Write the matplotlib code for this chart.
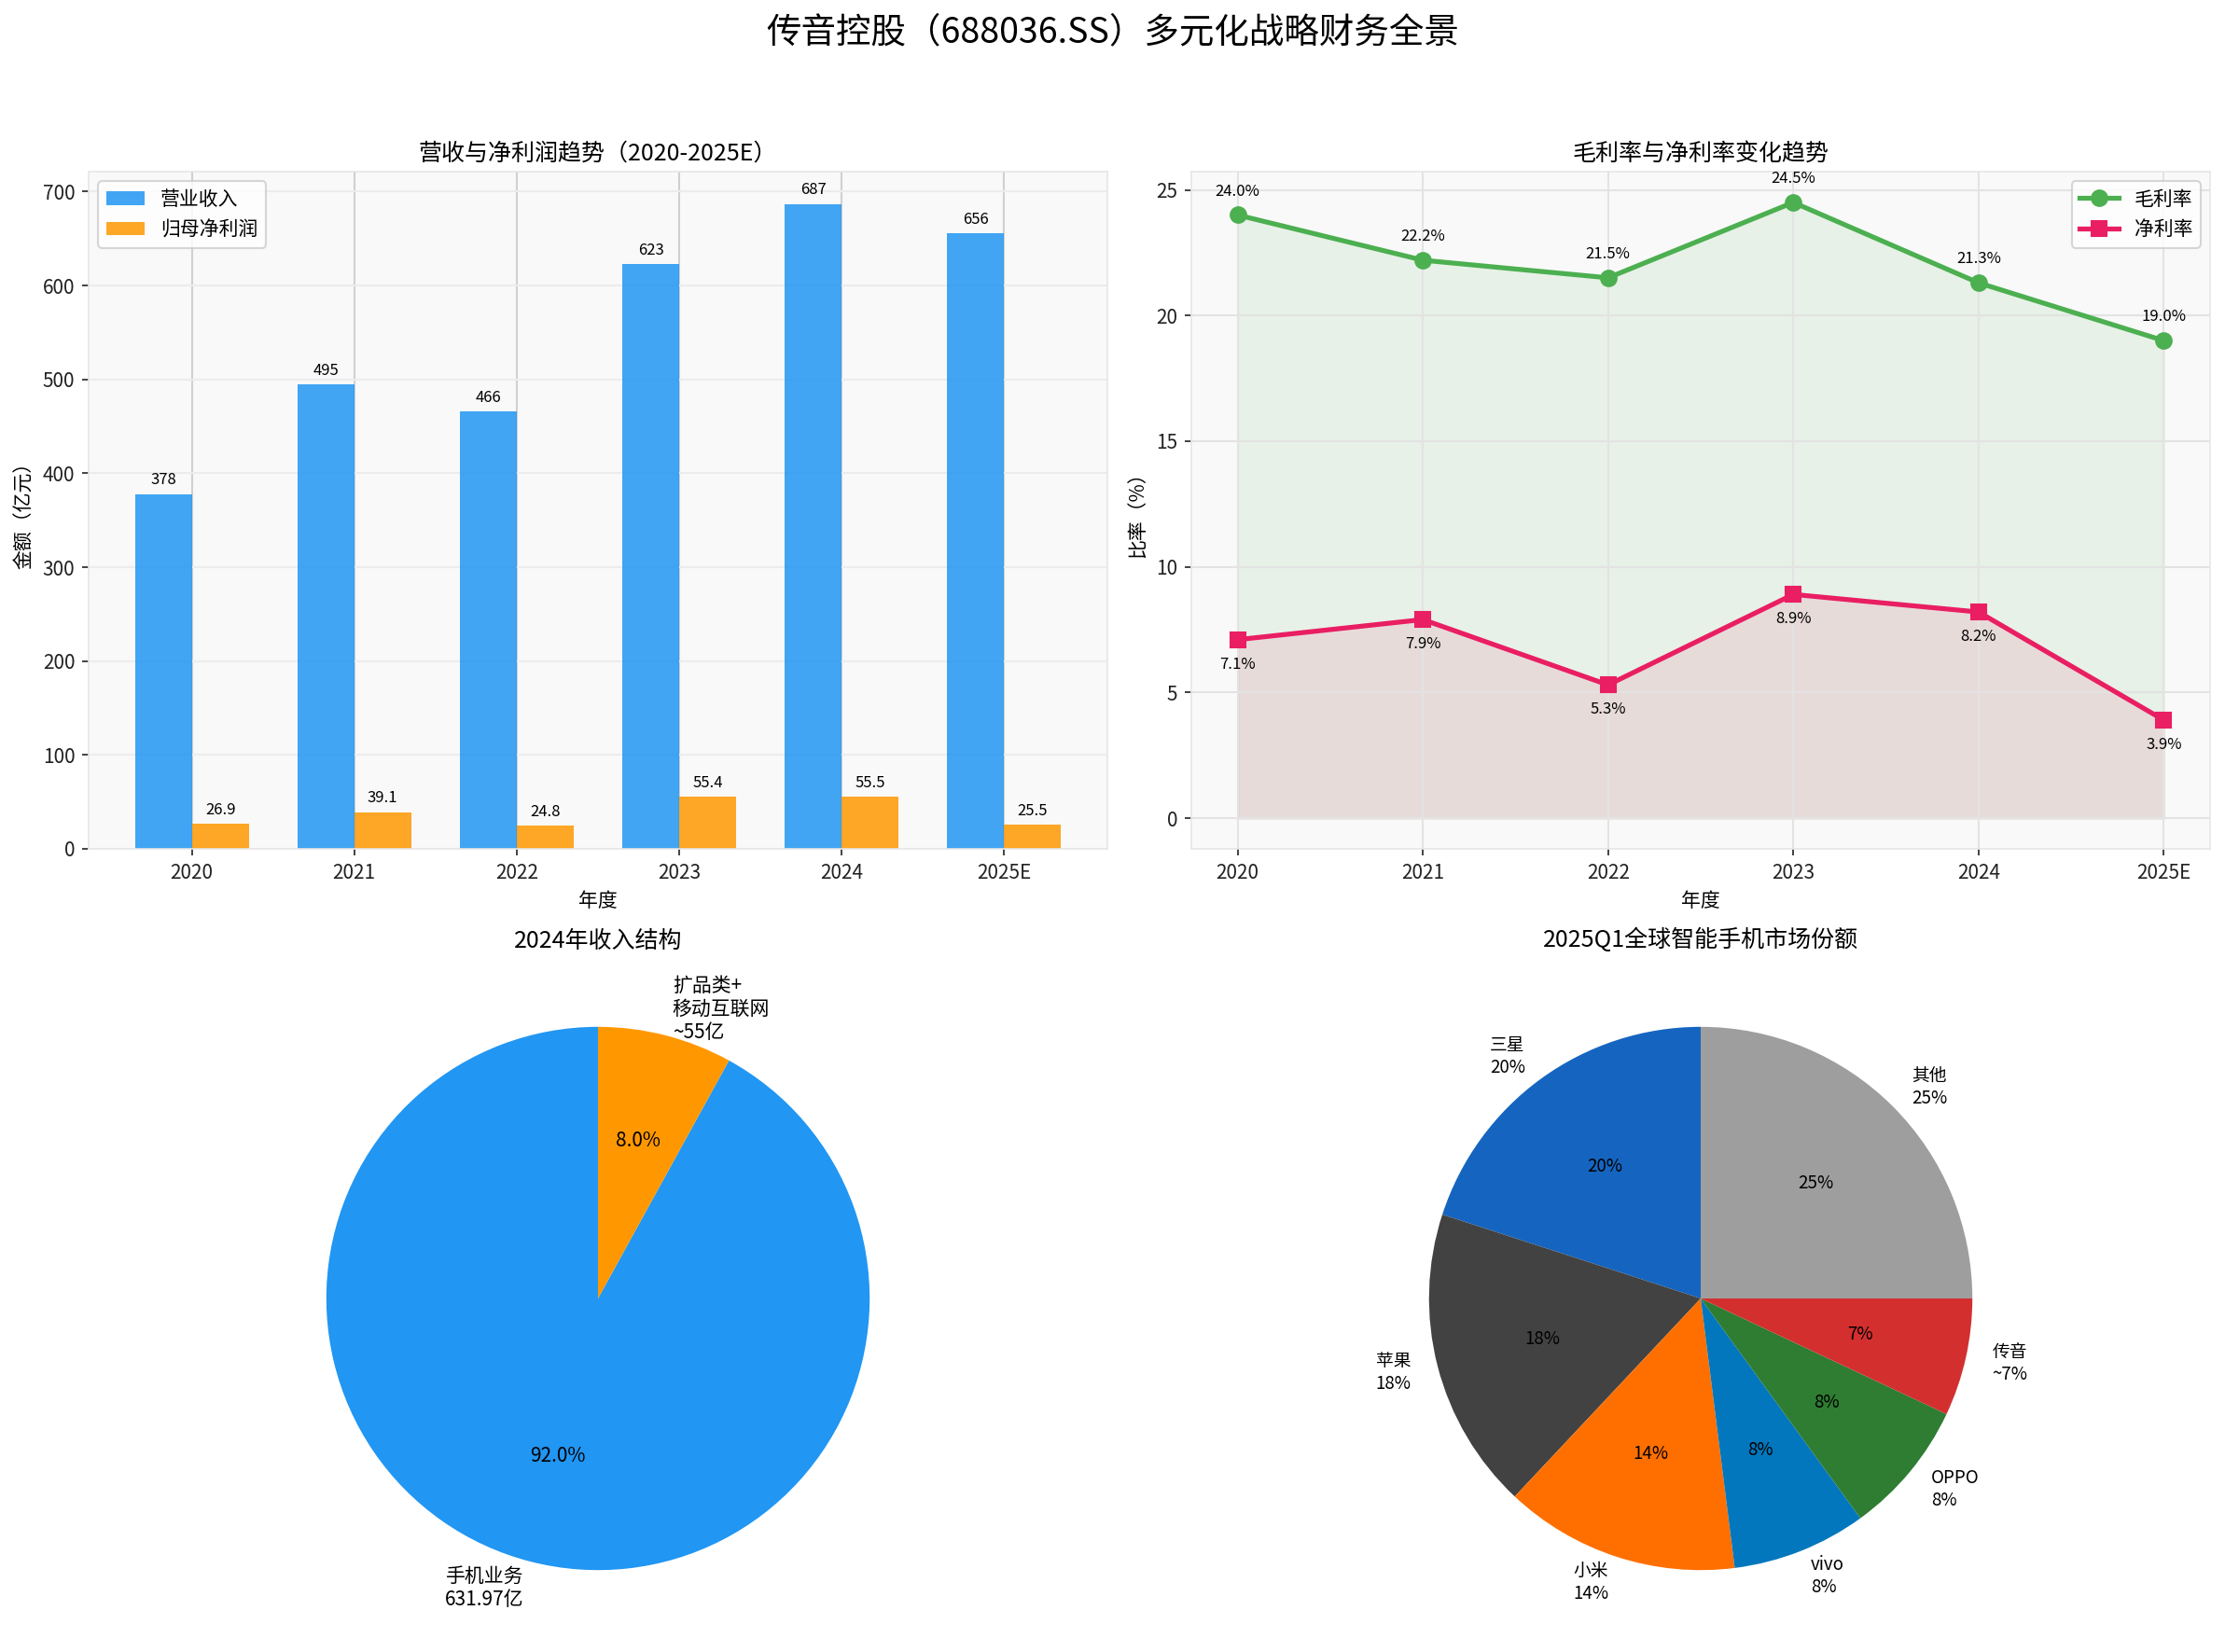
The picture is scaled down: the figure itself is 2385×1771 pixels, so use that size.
import matplotlib
matplotlib.use("Agg")
import matplotlib.pyplot as plt
import numpy as np

plt.rcParams["font.family"] = ["Noto Sans CJK SC", "DejaVu Sans"]
plt.rcParams["axes.unicode_minus"] = False

# data
years = ["2020", "2021", "2022", "2023", "2024", "2025E"]
revenue = [378, 495, 466, 623, 687, 656]
net_profit = [26.9, 39.1, 24.8, 55.4, 55.5, 25.5]
gross_margin = [24.0, 22.2, 21.5, 24.5, 21.3, 19.0]
net_margin = [7.1, 7.9, 5.3, 8.9, 8.2, 3.9]

rev_labels = ["手机业务\n631.97亿", "扩品类+\n移动互联网\n~55亿"]
rev_values = [631.97, 55]
rev_colors = ["#2196F3", "#FF9800"]

brands = ["三星", "苹果", "小米", "vivo", "OPPO", "传音", "其他"]
brand_share = [20, 18, 14, 8, 8, 7, 25]
brand_text = ["20%", "18%", "14%", "8%", "8%", "~7%", "25%"]
brand_colors = ["#1565C0", "#424242", "#FF6F00", "#0277BD", "#2E7D32", "#D32F2F", "#9E9E9E"]

W, H = 2385, 1771
fig = plt.figure(figsize=(W / 150, H / 150), dpi=150)


def rect(l, t, r, b):
    return [l / W, 1 - b / H, (r - l) / W, (b - t) / H]


def style_axes(ax):
    ax.set_facecolor("#f9f9f9")
    for s in ax.spines.values():
        s.set_color("#e6e6e6")
    ax.tick_params(colors="#222222", labelsize=10)


fig.suptitle("传音控股（688036.SS）多元化战略财务全景", fontsize=18, y=1 - 15 / H, va="top")

# revenue & net profit bars
ax1 = fig.add_axes(rect(95, 184, 1187, 910))
style_axes(ax1)
x = np.arange(len(years))
w = 0.35
b1 = ax1.bar(x - w / 2, revenue, w, color="#2196F3", alpha=0.85, label="营业收入")
b2 = ax1.bar(x + w / 2, net_profit, w, color="#FF9800", alpha=0.85, label="归母净利润")
for bars, vals, fmt in [(b1, revenue, "{:.0f}"), (b2, net_profit, "{:.1f}")]:
    for bar, v in zip(bars, vals):
        ax1.annotate(fmt.format(v), (bar.get_x() + bar.get_width() / 2, v),
                     xytext=(0, 3), textcoords="offset points",
                     ha="center", va="bottom", fontsize=8)
ax1.set_xticks(x)
ax1.set_xticklabels(years)
ax1.grid(axis="x", color="#d0d0d0", linewidth=1)
ax1.grid(axis="y", color="#ececec", linewidth=1)
ax1.set_axisbelow(True)
ax1.set_title("营收与净利润趋势（2020-2025E）", fontsize=12)
ax1.set_xlabel("年度", fontsize=10)
ax1.set_ylabel("金额（亿元）", fontsize=10)
ax1.legend(loc="upper left", fontsize=10, edgecolor="#cccccc")

# margins
ax2 = fig.add_axes(rect(1277, 184, 2369, 910))
style_axes(ax2)
ax2.plot(x, gross_margin, marker="o", color="#4CAF50", linewidth=2.5, markersize=8, label="毛利率")
ax2.plot(x, net_margin, marker="s", color="#E91E63", linewidth=2.5, markersize=8, label="净利率")
ax2.fill_between(x, gross_margin, alpha=0.1, color="#4CAF50")
ax2.fill_between(x, net_margin, alpha=0.1, color="#E91E63")
for i in range(len(years)):
    ax2.annotate(f"{gross_margin[i]:.1f}%", (x[i], gross_margin[i]), xytext=(0, 10),
                 textcoords="offset points", ha="center", fontsize=8)
    ax2.annotate(f"{net_margin[i]:.1f}%", (x[i], net_margin[i]), xytext=(0, -15),
                 textcoords="offset points", ha="center", fontsize=8)
ax2.set_xticks(x)
ax2.set_xticklabels(years)
ax2.grid(True, color="#e3e3e3", linewidth=1)
ax2.set_title("毛利率与净利率变化趋势", fontsize=12)
ax2.set_xlabel("年度", fontsize=10)
ax2.set_ylabel("比率（%）", fontsize=10)
ax2.legend(loc="upper right", fontsize=10, edgecolor="#cccccc")

# 2024 revenue structure
ax3 = fig.add_axes(rect(95, 1028, 1187, 1756))
ax3.pie(rev_values, labels=rev_labels, colors=rev_colors, autopct="%1.1f%%",
        startangle=90, textprops={"fontsize": 10})
ax3.set_aspect("equal")
ax3.set_title("2024年收入结构", fontsize=12)

# market share
ax4 = fig.add_axes(rect(1277, 1028, 2369, 1756))
ax4.pie(brand_share, labels=[f"{b}\n{t}" for b, t in zip(brands, brand_text)],
        colors=brand_colors, autopct="%1.0f%%", startangle=90,
        textprops={"fontsize": 9})
ax4.set_aspect("equal")
ax4.set_title("2025Q1全球智能手机市场份额", fontsize=12)

fig.savefig("out.png", dpi=150)
